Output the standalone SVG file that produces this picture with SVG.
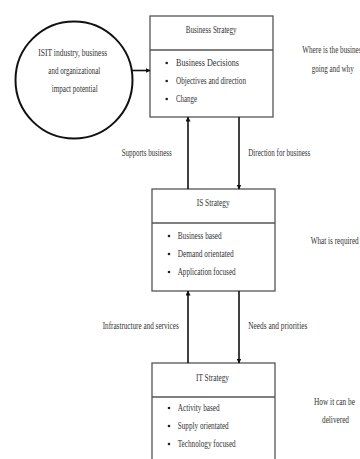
<svg xmlns="http://www.w3.org/2000/svg" width="360" height="459" viewBox="0 0 360 459">
<defs>
<marker id="ah" viewBox="0 0 10 10" refX="9" refY="5" markerWidth="5" markerHeight="5" orient="auto" markerUnits="userSpaceOnUse"><path d="M0,0 L10,5 L0,10 z" fill="#111"/></marker>
<style>
text{font-family:"Liberation Serif","Times New Roman",serif;font-size:10px;fill:#333}
.c{text-anchor:middle}
.box{fill:#fff;stroke:#555;stroke-width:1.3}
.div{stroke:#555;stroke-width:1.3}
.conn{stroke:#111;stroke-width:1.6;fill:none;marker-end:url(#ah)}
.b{fill:#222}
</style>
</defs>
<rect width="360" height="459" fill="#fff"/>
<g id="circle">
<circle cx="74" cy="80" r="58.5" fill="#fff" stroke="#111" stroke-width="2"/>
<text x="38.3" y="56" textLength="69" lengthAdjust="spacingAndGlyphs">ISIT industry, business</text>
<text x="48.3" y="74" textLength="52" lengthAdjust="spacingAndGlyphs">and organizational</text>
<text x="51.7" y="92" textLength="46" lengthAdjust="spacingAndGlyphs">impact potential</text>
</g>
<g id="business">
<rect class="box" x="150" y="16" width="123" height="101"/>
<line class="div" x1="150" y1="50" x2="273" y2="50"/>
<text x="185.7" y="33" textLength="51" lengthAdjust="spacingAndGlyphs">Business Strategy</text>
<circle class="b" cx="166.7" cy="63" r="1.3"/><circle class="b" cx="166.7" cy="81" r="1.3"/><circle class="b" cx="166.7" cy="99" r="1.3"/>
<text x="176" y="66" textLength="63" lengthAdjust="spacingAndGlyphs">Business Decisions</text>
<text x="176" y="84" textLength="70" lengthAdjust="spacingAndGlyphs">Objectives and direction</text>
<text x="176" y="102" textLength="21" lengthAdjust="spacingAndGlyphs">Change</text>
</g>
<g id="is">
<rect class="box" x="152" y="189" width="123" height="102"/>
<line class="div" x1="152" y1="223" x2="275" y2="223"/>
<text x="196.7" y="206" textLength="33" lengthAdjust="spacingAndGlyphs">IS Strategy</text>
<circle class="b" cx="169" cy="236" r="1.3"/><circle class="b" cx="169" cy="254" r="1.3"/><circle class="b" cx="169" cy="272" r="1.3"/>
<text x="177.7" y="239" textLength="44" lengthAdjust="spacingAndGlyphs">Business based</text>
<text x="177.7" y="257" textLength="56" lengthAdjust="spacingAndGlyphs">Demand orientated</text>
<text x="177.7" y="275" textLength="58" lengthAdjust="spacingAndGlyphs">Application focused</text>
</g>
<g id="it">
<rect class="box" x="152" y="363" width="123" height="110"/>
<line class="div" x1="152" y1="397" x2="275" y2="397"/>
<text x="196" y="381" textLength="33" lengthAdjust="spacingAndGlyphs">IT Strategy</text>
<circle class="b" cx="169" cy="408" r="1.3"/><circle class="b" cx="169" cy="426" r="1.3"/><circle class="b" cx="169" cy="444" r="1.3"/>
<text x="177.7" y="411" textLength="42" lengthAdjust="spacingAndGlyphs">Activity based</text>
<text x="177.7" y="429" textLength="51" lengthAdjust="spacingAndGlyphs">Supply orientated</text>
<text x="177.7" y="447" textLength="58" lengthAdjust="spacingAndGlyphs">Technology focused</text>
</g>
<g id="notes">
<text x="302.3" y="53" textLength="62" lengthAdjust="spacingAndGlyphs">Where is the business</text>
<text x="311.7" y="72" textLength="42" lengthAdjust="spacingAndGlyphs">going and why</text>
<text x="310.7" y="244" textLength="48" lengthAdjust="spacingAndGlyphs">What is required</text>
<text x="314" y="405" textLength="41" lengthAdjust="spacingAndGlyphs">How it can be</text>
<text x="322" y="423" textLength="27" lengthAdjust="spacingAndGlyphs">delivered</text>
</g>
<g id="connectors">
<line class="conn" x1="131" y1="70.5" x2="150" y2="70.5"/>
<line class="conn" x1="188" y1="189" x2="188" y2="117"/>
<line class="conn" x1="239" y1="117" x2="239" y2="189"/>
<line class="conn" x1="188" y1="363" x2="188" y2="291"/>
<line class="conn" x1="239" y1="291" x2="239" y2="363"/>
<text x="121.7" y="156" textLength="50" lengthAdjust="spacingAndGlyphs">Supports business</text>
<text x="248.3" y="156" textLength="62" lengthAdjust="spacingAndGlyphs">Direction for business</text>
<text x="102.7" y="329" textLength="76" lengthAdjust="spacingAndGlyphs">Infrastructure and services</text>
<text x="248.3" y="329" textLength="59" lengthAdjust="spacingAndGlyphs">Needs and priorities</text>
</g>
</svg>
